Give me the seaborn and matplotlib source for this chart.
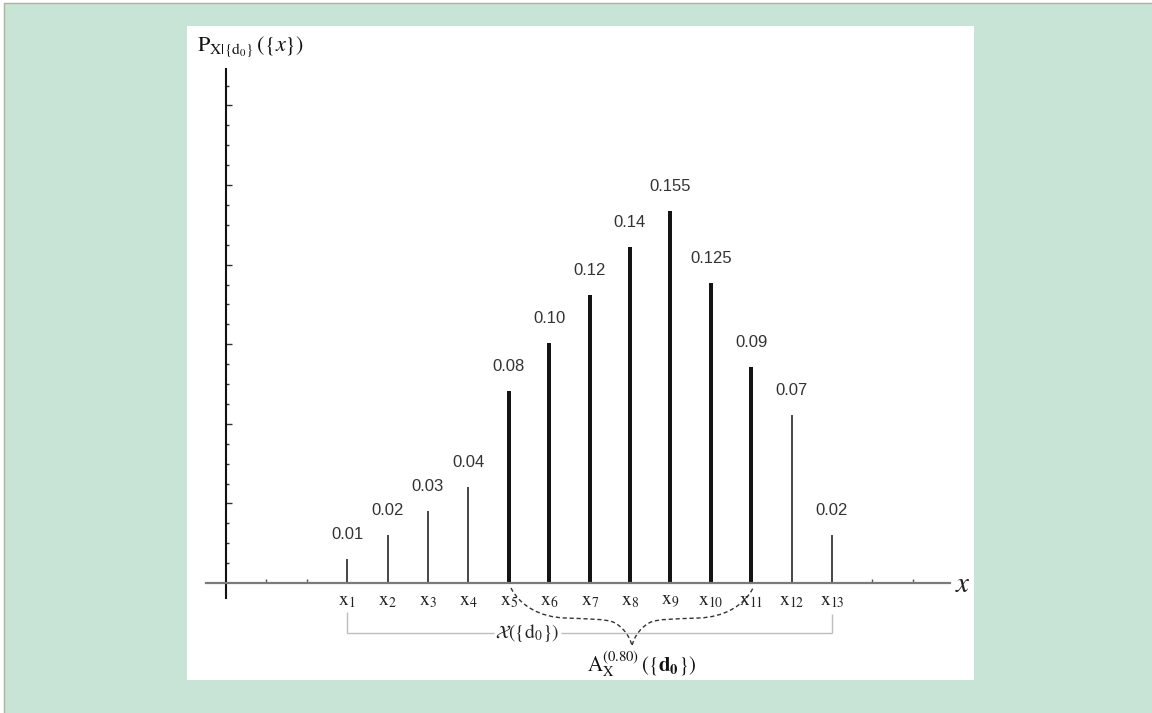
import numpy as np
import pandas as pd
import matplotlib
matplotlib.use("Agg")
import matplotlib.pyplot as plt
from matplotlib.patches import Rectangle, PathPatch
from matplotlib.path import Path
from matplotlib.lines import Line2D
import seaborn as sns

# Probability mass function of X given {d0}
outcome_index = [1, 2, 3, 4, 5, 6, 7, 8, 9, 10, 11, 12, 13]
positions = [3, 4, 5, 6, 7, 8, 9, 10, 11, 12, 13, 14, 15]
probabilities = [0.01, 0.02, 0.03, 0.04, 0.08, 0.10, 0.12, 0.14, 0.155, 0.125, 0.09, 0.07, 0.02]
value_labels = ["0.01", "0.02", "0.03", "0.04", "0.08", "0.10", "0.12",
                "0.14", "0.155", "0.125", "0.09", "0.07", "0.02"]
# outcomes belonging to the 0.80 acceptance region
in_region = [False, False, False, False, True, True, True, True, True, True, True, False, False]
extra_xticks = [1, 2, 16, 17]

sns.set_theme(style="white")
plt.rcParams["mathtext.fontset"] = "stix"
plt.rcParams["font.family"] = ["DejaVu Sans"]

W, H, DPI = 1152, 713, 100
fig = plt.figure(figsize=(W / DPI, H / DPI), dpi=DPI, facecolor="white")

# page background, framing line and white drawing panel
GREEN = "#c8e4d6"
fig.patches.append(Rectangle((4 / W, 0), 1 - 4 / W, 1 - 3 / H, transform=fig.transFigure,
                             facecolor=GREEN, edgecolor="none", zorder=-20))
fig.lines.append(Line2D([4 / W, 1], [1 - 3 / H, 1 - 3 / H], transform=fig.transFigure,
                        color="#aab2a0", lw=1.0, zorder=-19))
fig.lines.append(Line2D([4 / W, 4 / W], [0, 1 - 3 / H], transform=fig.transFigure,
                        color="#aab2a0", lw=1.0, zorder=-19))
fig.patches.append(Rectangle((187 / W, 1 - 680 / H), (974 - 187) / W, (680 - 26) / H,
                             transform=fig.transFigure, facecolor="white",
                             edgecolor="none", zorder=-18))

# axes box in pixels
AX_L, AX_R, AX_T, AX_B = 206, 950, 69, 598
X0_PX, X_UNIT = 226, 40.4          # origin and pixels per x unit
BASE_PX, Y_UNIT = 583, 2400        # baseline and pixels per probability unit

def xd(px):
    return (px - X0_PX) / X_UNIT

def yd(py):
    return (BASE_PX - py) / Y_UNIT

ax = fig.add_axes([AX_L / W, 1 - AX_B / H, (AX_R - AX_L) / W, (AX_B - AX_T) / H])
ax.set_facecolor("none")

df = pd.DataFrame({"pos": positions, "p": probabilities, "core": in_region})
sns.barplot(data=df[~df["core"]], x="pos", y="p", native_scale=True, width=0.05,
            color="#4a4a4a", saturation=1, linewidth=0, errorbar=None, ax=ax)
sns.barplot(data=df[df["core"]], x="pos", y="p", native_scale=True, width=0.1,
            color="#141414", saturation=1, linewidth=0, errorbar=None, ax=ax)

ax.set_xlim(xd(AX_L), xd(AX_R))
ax.set_ylim(yd(AX_B), yd(AX_T))
ax.set_xlabel("")
ax.set_ylabel("")

# axes lines through the origin
for side in ["top", "right"]:
    ax.spines[side].set_visible(False)
ax.spines["left"].set_position(("data", 0))
ax.spines["bottom"].set_position(("data", 0))
ax.spines["left"].set_color("#111111")
ax.spines["left"].set_linewidth(1.5)
ax.spines["bottom"].set_color("#7a7a7a")
ax.spines["bottom"].set_linewidth(1.6)
ax.spines["left"].set_zorder(1)
ax.spines["bottom"].set_zorder(1)

# ticks
ax.set_xticks(extra_xticks)
ax.set_xticklabels([])
ax.tick_params(axis="x", direction="in", length=3, width=1, color="#555555", bottom=True)
step = 19.9 / Y_UNIT
tick_idx = np.arange(1, 26)
ax.set_yticks(step * tick_idx[tick_idx % 4 == 0])
ax.set_yticks(step * tick_idx[tick_idx % 4 != 0], minor=True)
ax.set_yticklabels([])
ax.tick_params(axis="y", which="major", direction="in", length=4.5, width=1,
               color="#333333", left=True)
ax.tick_params(axis="y", which="minor", direction="in", length=2.3, width=1,
               color="#333333", left=True)

# value labels above each bar
for pos, p, lab in zip(positions, probabilities, value_labels):
    ax.annotate(lab, (pos, p), xytext=(0, 17), textcoords="offset pixels",
                ha="center", va="bottom", fontsize=12, family="Liberation Sans",
                color="#333333", annotation_clip=False)

# outcome names under the axis
for pos, i in zip(positions, outcome_index):
    ax.text(pos, yd(600), rf"$\mathrm{{x}}_{{{i}}}$", ha="center", va="center",
            fontsize=14, color="#222222", clip_on=False)

ax.text(xd(963), yd(584), r"$x$", ha="center", va="center", fontsize=21,
        color="#222222", clip_on=False)
fig.text(197 / W, 1 - 47 / H, r"$\mathrm{P}_{\mathrm{X}|\{\mathrm{d}_0\}}\,(\{x\})$",
         ha="left", va="center", fontsize=16, color="#111111")

# bracket spanning the whole support
bracket_kw = dict(color="#bdbdbd", lw=1.0, clip_on=False, solid_capstyle="butt")
y_br = yd(633)
ax.plot([positions[0], positions[0]], [yd(612), y_br], **bracket_kw)
ax.plot([positions[-1], positions[-1]], [yd(614), y_br], **bracket_kw)
ax.plot([positions[0], xd(494)], [y_br, y_br], **bracket_kw)
ax.plot([xd(561), positions[-1]], [y_br, y_br], **bracket_kw)
ax.text(xd(527), y_br, r"$\mathcal{X}(\{\mathrm{d}_0\})$", ha="center", va="center",
        fontsize=14, color="#222222", clip_on=False)

# dashed curly brace under the acceptance region
left_half = [(511, 588), (520, 606), (540, 617), (565, 618),
             (590, 619), (605, 619), (613, 622),
             (622, 626), (630, 636), (632, 646)]
right_half = [(1264 - x, y) for x, y in reversed(left_half)]
pts = left_half + right_half[1:]
verts = [(xd(x), yd(y)) for x, y in pts]
codes = [Path.MOVETO] + [Path.CURVE4] * (len(verts) - 1)
brace = PathPatch(Path(verts, codes), facecolor="none", edgecolor="#333333", lw=1.0,
                  linestyle=(0, (3, 2)), clip_on=False)
ax.add_patch(brace)
ax.text(xd(642), yd(664), r"$\mathrm{A}_{\mathrm{X}}^{(0.80)}\,(\{\mathbf{d}_{\mathbf{0}}\})$",
        ha="center", va="center", fontsize=15, color="#111111", clip_on=False)

fig.savefig("out.png", dpi=DPI, facecolor=fig.get_facecolor())
